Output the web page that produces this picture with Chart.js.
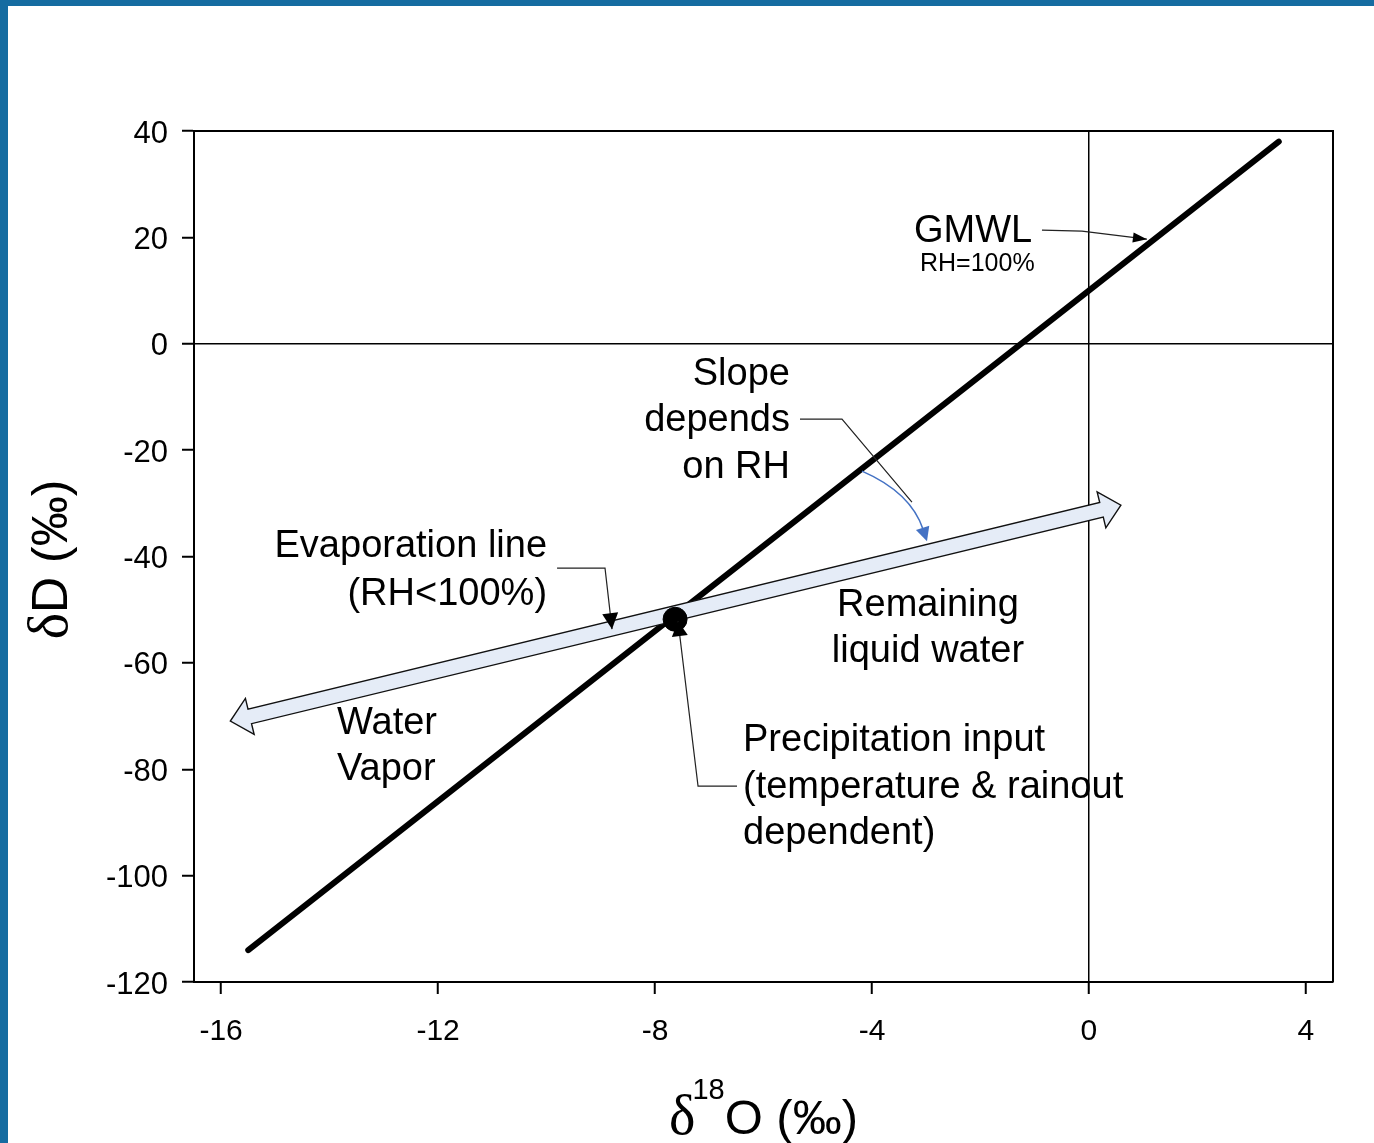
<!DOCTYPE html>
<html><head><meta charset="utf-8">
<script src="https://cdn.jsdelivr.net/npm/chart.js@4"></script>
<style>
html,body{margin:0;padding:0;background:#fff;overflow:hidden}
#wrap{position:absolute;left:0;top:0;width:1374px;height:1143px}
#bl{position:absolute;left:0;top:0;width:8px;height:1143px;background:#156ca1}
#bt{position:absolute;left:0;top:0;width:1374px;height:6px;background:#156ca1}
</style></head><body>
<div id="wrap"><canvas id="c" width="1374" height="1143"></canvas></div>
<div id="bl"></div><div id="bt"></div>
<script>
// ---- data ----
const xTicks = [-16, -12, -8, -4, 0, 4];
const yTicks = [-120, -100, -80, -60, -40, -20, 0, 20, 40];
const gmwlX = [-15.5, 3.5];
const gmwlY = [-114, 38];
const evapX = [-15.83, 0.59];
const evapY = [-70.95, -30.34];
const precipX = [-7.63];
const precipY = [-51.8];

// ---- annotation texts (data coordinates) ----
const FONT = '"Liberation Sans", Arial, sans-serif';
const labels = [
  {t:'GMWL', x:-3.226, y:21.73, a:'left', s:38},
  {t:'RH=100%', x:-3.115, y:15.34, a:'left', s:25},
  {t:'Slope', x:-5.512, y:-5.34, a:'right', s:38},
  {t:'depends', x:-5.512, y:-13.99, a:'right', s:38},
  {t:'on RH', x:-5.512, y:-22.64, a:'right', s:38},
  {t:'Evaporation line', x:-9.991, y:-37.68, a:'right', s:38},
  {t:'(RH<100%)', x:-9.991, y:-46.52, a:'right', s:38},
  {t:'Remaining', x:-2.968, y:-48.77, a:'center', s:38},
  {t:'liquid water', x:-2.968, y:-57.42, a:'center', s:38},
  {t:'Water', x:-13.862, y:-70.95, a:'left', s:38},
  {t:'Vapor', x:-13.862, y:-79.60, a:'left', s:38},
  {t:'Precipitation input', x:-6.378, y:-74.15, a:'left', s:38},
  {t:'(temperature & rainout', x:-6.378, y:-82.99, a:'left', s:38},
  {t:'dependent)', x:-6.378, y:-91.64, a:'left', s:38}
];
const connectors = [
  {pts:[[-0.866,21.36],[-0.129,21.17],[1.069,19.67]], hl:14, hw:5},
  {pts:[[-5.327,-14.18],[-4.553,-14.18],[-3.263,-29.78]], hl:0, hw:0},
  {pts:[[-9.806,-42.19],[-8.922,-42.19],[-8.793,-53.66]], hl:16, hw:8},
  {pts:[[-6.488,-83.17],[-7.207,-83.17],[-7.576,-52.15]], hl:15, hw:8}
];
const blueCurve = {s:[-4.184,-23.95], c:[-3.281,-27.95], e:[-2.986,-37.11]};

function arrowHead(ctx, tip, from, len, hw, color){
  const dx = tip[0]-from[0], dy = tip[1]-from[1];
  const L = Math.hypot(dx,dy); const ux = dx/L, uy = dy/L;
  const bx = tip[0]-ux*len, by = tip[1]-uy*len;
  ctx.beginPath();
  ctx.moveTo(tip[0],tip[1]);
  ctx.lineTo(bx-uy*hw, by+ux*hw);
  ctx.lineTo(bx+uy*hw, by-ux*hw);
  ctx.closePath();
  ctx.fillStyle = color; ctx.fill();
}

const annot = {
  id:'annot',
  afterDatasetDraw(chart, args){
    if(args.index !== 1) return;
    const ctx = chart.ctx, xs = chart.scales.x, ys = chart.scales.y;
    const p1 = [xs.getPixelForValue(evapX[0]), ys.getPixelForValue(evapY[0])];
    const p2 = [xs.getPixelForValue(evapX[1]), ys.getPixelForValue(evapY[1])];
    const dx = p2[0]-p1[0], dy = p2[1]-p1[1], L = Math.hypot(dx,dy);
    const ux = dx/L, uy = dy/L, nx = -uy, ny = ux;
    const sw = 7.5, hh = 18.5, hl = 20;
    const P = (b, a, n) => [b[0]+ux*a+nx*n, b[1]+uy*a+ny*n];
    const pts = [p2, P(p2,-hl,hh), P(p2,-hl,sw), P(p1,hl,sw), P(p1,hl,hh), p1,
                 P(p1,hl,-hh), P(p1,hl,-sw), P(p2,-hl,-sw), P(p2,-hl,-hh)];
    ctx.save();
    ctx.beginPath();
    pts.forEach((p,i)=> i? ctx.lineTo(p[0],p[1]) : ctx.moveTo(p[0],p[1]));
    ctx.closePath();
    ctx.fillStyle = '#e5ecf7'; ctx.fill();
    ctx.lineWidth = 1.4; ctx.strokeStyle = '#111'; ctx.lineJoin = 'miter'; ctx.stroke();
    ctx.restore();
  },
  afterDraw(chart){
    const ctx = chart.ctx, xs = chart.scales.x, ys = chart.scales.y, ca = chart.chartArea;
    const px = p => [xs.getPixelForValue(p[0]), ys.getPixelForValue(p[1])];
    ctx.save();
    // frame top & right
    ctx.strokeStyle = '#000'; ctx.lineWidth = 2;
    ctx.beginPath();
    ctx.moveTo(ca.left, ca.top); ctx.lineTo(ca.right, ca.top); ctx.lineTo(ca.right, ca.bottom);
    ctx.stroke();
    // connectors
    connectors.forEach(c=>{
      const pp = c.pts.map(px);
      ctx.beginPath();
      pp.forEach((p,i)=> i? ctx.lineTo(p[0],p[1]) : ctx.moveTo(p[0],p[1]));
      ctx.strokeStyle = '#222'; ctx.lineWidth = 1.2; ctx.stroke();
      if(c.hl) arrowHead(ctx, pp[pp.length-1], pp[pp.length-2], c.hl, c.hw, '#000');
    });
    // blue curve
    const s = px(blueCurve.s), cc = px(blueCurve.c), e = px(blueCurve.e);
    const d = [e[0]-cc[0], e[1]-cc[1]]; const dl = Math.hypot(d[0],d[1]);
    const eb = [e[0]-d[0]/dl*12, e[1]-d[1]/dl*12];
    ctx.beginPath(); ctx.moveTo(s[0],s[1]); ctx.quadraticCurveTo(cc[0],cc[1],eb[0],eb[1]);
    ctx.strokeStyle = '#4472c4'; ctx.lineWidth = 1.6; ctx.stroke();
    arrowHead(ctx, e, cc, 14, 7, '#4472c4');
    // labels
    ctx.fillStyle = '#000'; ctx.textBaseline = 'middle';
    labels.forEach(l=>{
      ctx.font = l.s + 'px ' + FONT; ctx.textAlign = l.a;
      const p = px([l.x,l.y]); ctx.fillText(l.t, p[0], p[1] + l.s*0.075);
    });
    // x title
    ctx.textBaseline = 'alphabetic'; ctx.textAlign = 'left';
    const serif = '"Liberation Serif", "Times New Roman", serif';
    const base = ca.bottom + 152;
    ctx.font = '56px ' + serif; const wD = ctx.measureText('δ').width - 3;
    ctx.font = '29px ' + FONT; const w18 = ctx.measureText('18').width;
    ctx.font = '49px ' + FONT; const wR = ctx.measureText('O (‰)').width;
    let x0 = (ca.left+ca.right)/2 - (wD+w18+wR)/2;
    ctx.font = '56px ' + serif; ctx.fillText('δ', x0, base); x0 += wD;
    ctx.font = '29px ' + FONT; ctx.fillText('18', x0, base-35); x0 += w18;
    ctx.font = '49px ' + FONT; ctx.fillText('O (‰)', x0, base);
    // y title
    ctx.save();
    ctx.translate(ca.left - 127, (ca.top+ca.bottom)/2 + 3);
    ctx.rotate(-Math.PI/2);
    ctx.font = '56px ' + serif; const wd2 = ctx.measureText('δ').width;
    ctx.font = '50px ' + FONT; const wr2 = ctx.measureText('D (‰)').width;
    let y0 = -(wd2+wr2)/2;
    ctx.font = '56px ' + serif; ctx.fillText('δ', y0, 0); y0 += wd2;
    ctx.font = '50px ' + FONT; ctx.fillText('D (‰)', y0, 0);
    ctx.restore();
    ctx.restore();
  }
};

const gridColor = ctx => (ctx.tick && ctx.tick.value === 0) ? '#000' : 'rgba(0,0,0,0)';

new Chart(document.getElementById('c'), {
  type:'scatter',
  data:{datasets:[
    {label:'Precipitation input', data: precipX.map((x,i)=>({x, y:precipY[i]})),
     pointRadius:12, pointHoverRadius:12, backgroundColor:'#000', borderColor:'#000', showLine:false},
    {label:'GMWL', data: gmwlX.map((x,i)=>({x, y:gmwlY[i]})), showLine:true,
     borderColor:'#000', borderWidth:6, borderCapStyle:'round', pointRadius:0, fill:false}
  ]},
  options:{
    responsive:false, animation:false, devicePixelRatio:1,
    layout:{padding:{top:131, right:41, left:0, bottom:0}},
    plugins:{legend:{display:false}, tooltip:{enabled:false}},
    events:[],
    scales:{
      x:{type:'linear', min:-16.5, max:4.5,
        afterBuildTicks: s => { s.ticks = xTicks.map(v=>({value:v})); },
        afterFit: s => { s.height = 161; },
        ticks:{color:'#000', font:{size:30, family:FONT}, padding:20, maxRotation:0},
        grid:{color:gridColor, lineWidth:1.5, tickColor:'#000', tickWidth:2, tickLength:12, drawOnChartArea:true},
        border:{display:true, color:'#000', width:2}
      },
      y:{type:'linear', min:-120, max:40,
        afterBuildTicks: s => { s.ticks = yTicks.map(v=>({value:v})); },
        afterFit: s => { s.width = 194; },
        ticks:{color:'#000', font:{size:31, family:FONT}, padding:14, labelOffset:3},
        grid:{color:gridColor, lineWidth:1.5, tickColor:'#000', tickWidth:2, tickLength:12, drawOnChartArea:true},
        border:{display:true, color:'#000', width:2}
      }
    }
  },
  plugins:[annot]
});
</script>
</body></html>
